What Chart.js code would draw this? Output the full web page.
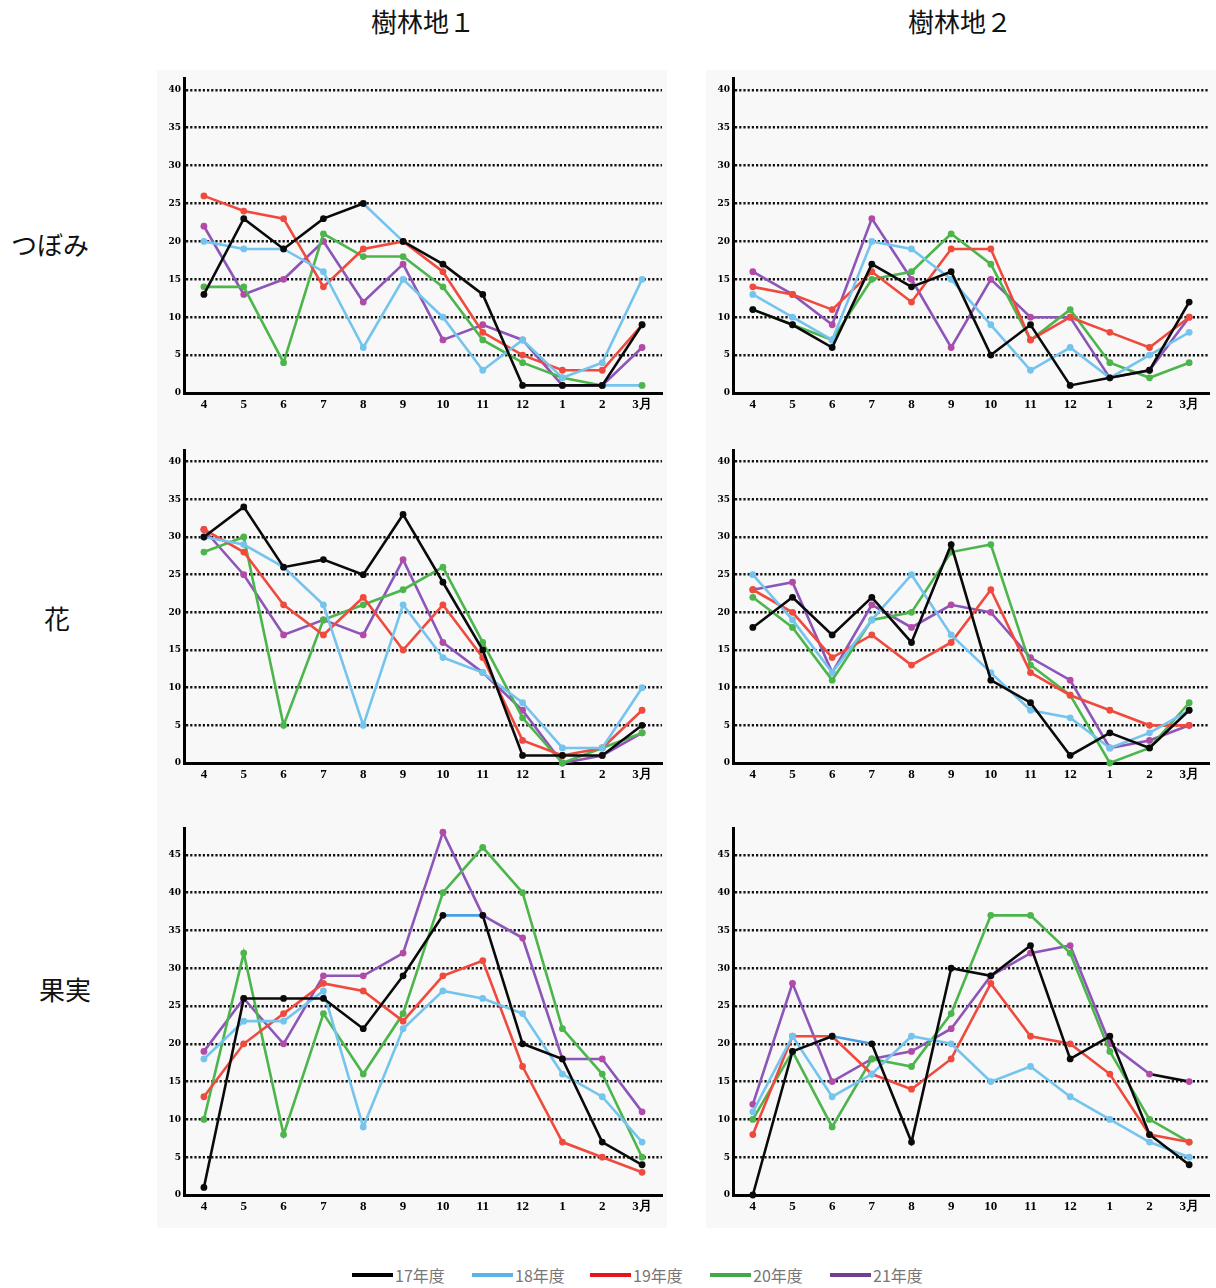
<!DOCTYPE html>
<html lang="ja">
<head>
<meta charset="utf-8">
<script src="https://cdn.jsdelivr.net/npm/chart.js@4.4.1/dist/chart.umd.min.js"></script>
<style>
  body { margin: 0; width: 1216px; height: 1288px; background: #fff; position: relative; overflow: hidden;
         font-family: "Liberation Serif", "Noto Sans CJK JP", serif; }
  .bg { position: absolute; top: 70px; height: 1158px; width: 510px; background: #f8f8f8; }
  .panel { position: absolute; }
  .title, .row { position: absolute; font-size: 26px; color: #111; transform: translate(-50%, -50%); white-space: nowrap; }
  .legend-item { position: absolute; top: 1263px; display: flex; align-items: center; font-family: "Noto Sans CJK JP", sans-serif;
                 font-size: 16px; color: #777; }
  .legend-item span.swatch { display: inline-block; width: 41px; height: 4px; margin-right: 2px; }
</style>
</head>
<body>
<div class="bg" style="left:157px"></div>
<div class="bg" style="left:706px"></div>

<div class="title" style="left:423px; top:20px">樹林地１</div>
<div class="title" style="left:960px; top:20px">樹林地２</div>
<div class="row" style="left:50px; top:243px">つぼみ</div>
<div class="row" style="left:57px; top:617px">花</div>
<div class="row" style="left:65px; top:988px">果実</div>

<canvas id="c1" class="panel" style="left:157px; top:70px"></canvas>
<canvas id="c2" class="panel" style="left:706px; top:70px"></canvas>
<canvas id="c3" class="panel" style="left:157px; top:442px"></canvas>
<canvas id="c4" class="panel" style="left:706px; top:442px"></canvas>
<canvas id="c5" class="panel" style="left:157px; top:820px"></canvas>
<canvas id="c6" class="panel" style="left:706px; top:820px"></canvas>

<div id="legend"></div>

<script>
const months = ['4', '5', '6', '7', '8', '9', '10', '11', '12', '1', '2', '3月'];
const seriesNames = ['17年度', '18年度', '19年度', '20年度', '21年度'];

// one row per year: 17, 18, 19, 20, 21
const budsSite1 = [
    [13, 23, 19, 23, 25, 20, 17, 13, 1, 1, 1, 9],
    [20, 19, 19, 16, 6, 15, 10, 3, 7, 2, 4, 15],
    [26, 24, 23, 14, 19, 20, 16, 8, 5, 3, 3, 9],
    [14, 14, 4, 21, 18, 18, 14, 7, 4, 2, 1, 1],
    [22, 13, 15, 20, 12, 17, 7, 9, 7, 1, 1, 6]
];
const budsSite2 = [
    [11, 9, 6, 17, 14, 16, 5, 9, 1, 2, 3, 12],
    [13, 10, 7, 20, 19, 15, 9, 3, 6, 2, 5, 8],
    [14, 13, 11, 16, 12, 19, 19, 7, 10, 8, 6, 10],
    [11, 9, 7, 15, 16, 21, 17, 7, 11, 4, 2, 4],
    [16, 13, 9, 23, 15, 6, 15, 10, 10, 2, 3, 10]
];
const flowersSite1 = [
    [30, 34, 26, 27, 25, 33, 24, 15, 1, 1, 1, 5],
    [30, 29, 26, 21, 5, 21, 14, 12, 8, 2, 2, 10],
    [31, 28, 21, 17, 22, 15, 21, 14, 3, 1, 2, 7],
    [28, 30, 5, 19, 21, 23, 26, 16, 6, 0, 2, 4],
    [31, 25, 17, 19, 17, 27, 16, 12, 7, 0, 1, 4]
];
const flowersSite2 = [
    [18, 22, 17, 22, 16, 29, 11, 8, 1, 4, 2, 7],
    [25, 19, 12, 19, 25, 17, 12, 7, 6, 2, 4, 7],
    [23, 20, 14, 17, 13, 16, 23, 12, 9, 7, 5, 5],
    [22, 18, 11, 19, 20, 28, 29, 13, 9, 0, 2, 8],
    [23, 24, 12, 21, 18, 21, 20, 14, 11, 2, 3, 5]
];
const fruitSite1 = [
    [1, 26, 26, 26, 22, 29, 37, 37, 20, 18, 7, 4],
    [18, 23, 23, 27, 9, 22, 27, 26, 24, 16, 13, 7],
    [13, 20, 24, 28, 27, 23, 29, 31, 17, 7, 5, 3],
    [10, 32, 8, 24, 16, 24, 40, 46, 40, 22, 16, 5],
    [19, 26, 20, 29, 29, 32, 48, 37, 34, 18, 18, 11]
];
const fruitSite2 = [
    [0, 19, 21, 20, 7, 30, 29, 33, 18, 21, 8, 4],
    [11, 21, 13, 16, 21, 20, 15, 17, 13, 10, 7, 5],
    [8, 21, 21, 16, 14, 18, 28, 21, 20, 16, 8, 7],
    [10, 19, 9, 18, 17, 24, 37, 37, 32, 19, 10, 7],
    [12, 28, 15, 18, 19, 22, 29, 32, 33, 20, 16, 15]
];

const lineColors = ['#0a0a0a', '#74c4ee', '#f04a3e', '#4cb54c', '#8d55b8'];
const pointColors = ['#0a0a0a', '#74c4ee', '#f04a3e', '#4cb54c', '#b24aa6'];
const legendColors = ['#000000', '#5ab4e6', '#e8141c', '#43a947', '#6f3f96'];

// hand-coloured segments in the original: [series, start index, colour]
const oddSegments = {
    c1: [[0, 4, '#74c4ee'], [3, 10, '#74c4ee']],
    c5: [[0, 6, '#4d9ee0']],
    c6: [[0, 2, '#4d9ee0'], [4, 10, '#0a0a0a']]
};

const panels = [
    { id: 'c1', data: budsSite1, max: 41.5, h: 345, right: 5 },
    { id: 'c2', data: budsSite2, max: 41.5, h: 345, right: 7 },
    { id: 'c3', data: flowersSite1, max: 41.5, h: 343, right: 5 },
    { id: 'c4', data: flowersSite2, max: 41.5, h: 343, right: 7 },
    { id: 'c5', data: fruitSite1, max: 48.5, h: 397, right: 5 },
    { id: 'c6', data: fruitSite2, max: 48.5, h: 397, right: 7 }
];

panels.forEach((panel) => {
    const canvas = document.getElementById(panel.id);
    canvas.width = 510;
    canvas.height = panel.h;
    canvas.style.width = '510px';
    canvas.style.height = panel.h + 'px';
    const odd = oddSegments[panel.id] || [];

    new Chart(canvas, {
        type: 'line',
        data: {
            labels: months,
            datasets: panel.data.map((values, i) => ({
                label: seriesNames[i],
                data: values,
                borderColor: lineColors[i],
                backgroundColor: pointColors[i],
                pointBackgroundColor: pointColors[i],
                pointBorderWidth: 0,
                pointRadius: 3.4,
                borderWidth: 2.6,
                tension: 0,
                clip: false,
                segment: {
                    borderColor: (ctx) => {
                        const hit = odd.find((s) => s[0] === i && s[1] === ctx.p0DataIndex);
                        return hit ? hit[2] : undefined;
                    }
                }
            }))
        },
        options: {
            responsive: false,
            animation: false,
            layout: { padding: { top: 8, right: panel.right, left: 0, bottom: 0 } },
            plugins: { legend: { display: false }, tooltip: { enabled: false } },
            scales: {
                x: {
                    offset: true,
                    grid: { display: false, drawTicks: false },
                    border: { display: true, color: '#000', width: 3 },
                    ticks: {
                        color: '#000',
                        padding: 4,
                        maxRotation: 0,
                        font: { family: 'Liberation Serif', size: 13, weight: 'bold' }
                    },
                    afterFit: (scale) => { scale.height = 22; }
                },
                y: {
                    min: 0,
                    max: panel.max,
                    grid: { color: '#111', lineWidth: 2.4, drawTicks: false },
                    border: { display: true, color: '#000', width: 3, dash: [2.2, 2] },
                    ticks: {
                        stepSize: 5,
                        includeBounds: false,
                        color: '#000',
                        padding: 3,
                        font: { family: 'DejaVu Serif', size: 9, weight: 'bold' }
                    },
                    afterFit: (scale) => { scale.width = 27; }
                }
            }
        }
    });
});

// legend row under the panels
const legendStarts = [352, 472, 590, 710, 830];
const legend = document.getElementById('legend');
seriesNames.forEach((name, i) => {
    const item = document.createElement('div');
    item.className = 'legend-item';
    item.style.left = legendStarts[i] + 'px';
    item.innerHTML = `<span class="swatch" style="background:${legendColors[i]}"></span>${name}`;
    legend.appendChild(item);
});
</script>
</body>
</html>
